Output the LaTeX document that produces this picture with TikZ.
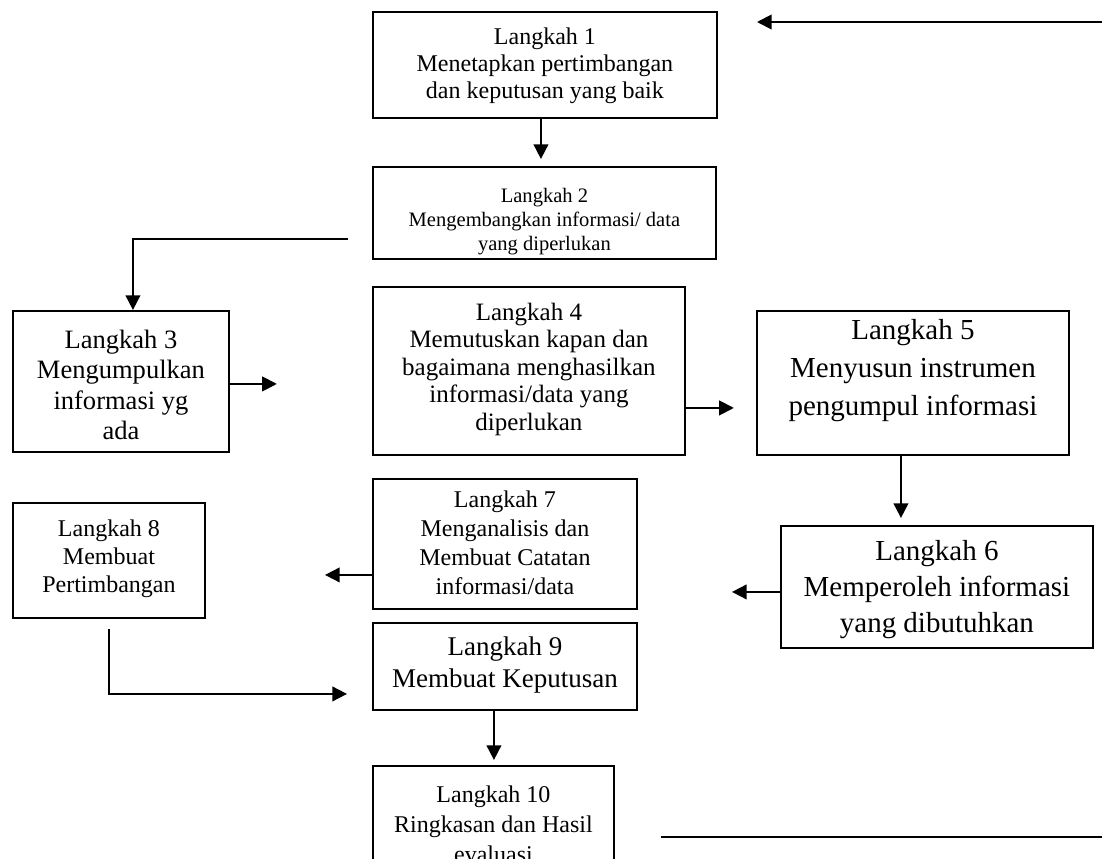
\documentclass[tikz,border=0pt]{standalone}
\usepackage{fontspec}
\setmainfont{Liberation Serif}
\usetikzlibrary{arrows.meta,calc}
\newlength{\px}
\setlength{\px}{0.75pt}
% width, height, top pad (px), font size, line skip, text
\newcommand{\steptext}[6]{\parbox[c][#2\px][t]{#1\px}{\centering\fontsize{#4}{#5}\selectfont\vspace*{#3\px}#6}}

\begin{document}
\begin{tikzpicture}[
  x=0.75pt, y=-0.75pt,
  stepbox/.style={draw, line width=1.4pt, inner sep=0pt, anchor=north west},
  arr/.style={-{Triangle[length=11pt,width=11pt]}, line width=1.4pt},
  plain/.style={line width=1.4pt}
]
  \clip (0,0) rectangle (1102,859);

  \node[stepbox] (b1) at (372,11)
    {\steptext{344}{106}{16}{18pt}{20.25pt}{Langkah 1\\Menetapkan pertimbangan\\dan keputusan yang baik}};
  \node[stepbox] (b2) at (372,166)
    {\steptext{343}{92}{21}{15.4pt}{18pt}{Langkah 2\\Mengembangkan informasi/ data\\yang diperlukan}};
  \node[stepbox] (b3) at (12,310)
    {\steptext{216}{141}{19}{19.9pt}{22.9pt}{Langkah 3\\Mengumpulkan\\informasi yg\\ada}};
  \node[stepbox] (b4) at (372,286)
    {\steptext{312}{168}{16}{18.75pt}{20.6pt}{Langkah 4\\Memutuskan kapan dan\\bagaimana menghasilkan\\informasi/data yang\\diperlukan}};
  \node[stepbox] (b5) at (756,310)
    {\steptext{312}{144}{8}{21.75pt}{28.5pt}{Langkah 5\\Menyusun instrumen\\pengumpul informasi}};
  \node[stepbox] (b6) at (780,525)
    {\steptext{312}{122}{14}{21.75pt}{27pt}{Langkah 6\\Memperoleh informasi\\yang dibutuhkan}};
  \node[stepbox] (b7) at (372,478)
    {\steptext{264}{130}{12}{18pt}{21.75pt}{Langkah 7\\Menganalisis dan\\Membuat Catatan\\informasi/data}};
  \node[stepbox] (b8) at (12,502)
    {\steptext{192}{115}{17}{18pt}{21pt}{Langkah 8\\Membuat\\Pertimbangan}};
  \node[stepbox] (b9) at (372,622)
    {\steptext{264}{87}{14}{20.25pt}{24pt}{Langkah 9\\Membuat Keputusan}};
  \node[stepbox] (b10) at (372,765)
    {\steptext{241}{120}{20}{18pt}{22.5pt}{Langkah 10\\Ringkasan dan Hasil\\evaluasi}};

  % free ends
  \coordinate (e3) at ([xshift=47\px,yshift=-2.5\px]b3.east);
  \coordinate (e4) at ([xshift=48\px,yshift=-37\px]b4.east);
  \coordinate (e6) at ([xshift=-48\px,yshift=-5\px]b6.west);
  \coordinate (e7) at ([xshift=-47\px,yshift=-31\px]b7.west);
  \coordinate (top1) at (1102,22);
  \coordinate (top2) at (757,22);
  \coordinate (bot1) at (661,837);
  \coordinate (bot2) at (1102,837);

  \draw[arr, shorten >=7\px] ([xshift=-4\px]b1.south) -- ([xshift=-4\px]b1.south |- b2.north);
  \draw[arr, shorten <=24\px] ([yshift=-26\px]b2.west) -| ([xshift=12\px]b3.north);
  \draw[arr] ([yshift=-2.5\px]b3.east) -- (e3);
  \draw[arr] ([yshift=-37\px]b4.east) -- (e4);
  \draw[arr, shorten >=7\px] ([xshift=-12\px]b5.south) -- ([xshift=-12\px]b5.south |- b6.north);
  \draw[arr] ([yshift=-5\px]b6.west) -- (e6);
  \draw[arr] ([yshift=-31\px]b7.west) -- (e7);
  \draw[arr, shorten <=10\px, shorten >=25\px] (b8.south) |- ([yshift=-27.5\px]b9.west);
  \draw[arr, shorten >=5\px] ([xshift=-11\px]b9.south) -- ([xshift=-11\px]b9.south |- b10.north);
  \draw[arr] (top1) -- (top2);
  \draw[plain] (bot1) -- (bot2);
\end{tikzpicture}
\end{document}
